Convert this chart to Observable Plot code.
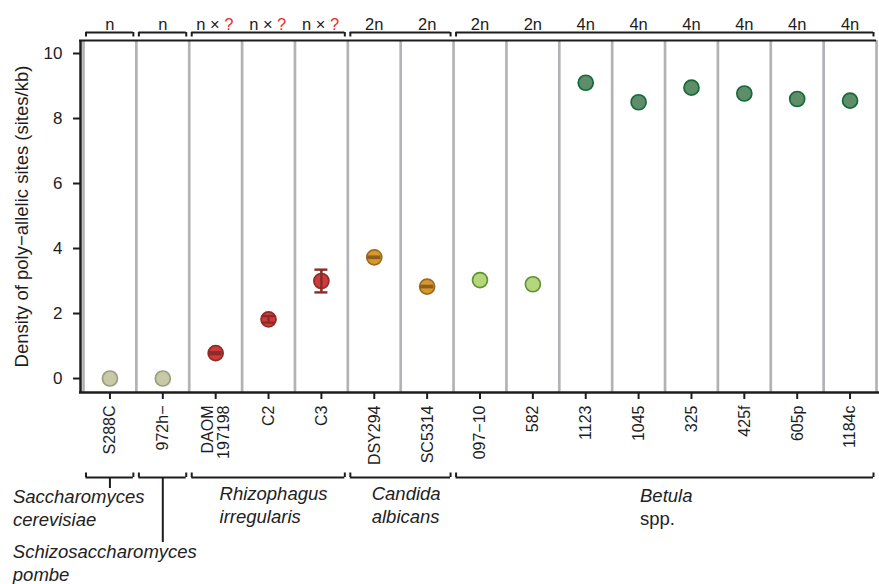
<!DOCTYPE html>
<html><head><meta charset="utf-8">
<script src="https://cdn.jsdelivr.net/npm/d3@7"></script>
<script src="https://cdn.jsdelivr.net/npm/@observablehq/plot@0.6"></script>
<style>body{margin:0;background:#fff}#chart svg{display:block}</style>
</head><body><div id="chart"></div>
<script>
// ---------- data ----------
const strains = ["S288C","972h−","DAOM\n197198","C2","C3","DSY294","SC5314","097−10","582","1123","1045","325","425f","605p","1184c"];
const ploidy = ["n","n","n × ?","n × ?","n × ?","2n","2n","2n","2n","4n","4n","4n","4n","4n","4n"];
const density = [0, 0, 0.78, 1.82, 3.0, 3.73, 2.83, 3.03, 2.9, 9.1, 8.5, 8.95, 8.77, 8.6, 8.55];
const densityErr = [0, 0, 0.03, 0.1, 0.35, 0.02, 0.02, 0, 0, 0, 0, 0, 0, 0, 0];
const strainClass = ["scer","spom","rhiz","rhiz","rhiz","cand","cand","bet2","bet2","bet4","bet4","bet4","bet4","bet4","bet4"];
const speciesNames = [["Saccharomyces","cerevisiae"],["Schizosaccharomyces","pombe"],["Rhizophagus","irregularis"],["Candida","albicans"],["Betula","spp."]];
const groupFrom = [0, 1, 2, 5, 7];
const groupTo = [0, 1, 4, 6, 14];
const yTicks = [0, 2, 4, 6, 8, 10];
const yTitle = "Density of poly−allelic sites (sites/kb)";

// ---------- styles ----------
const classFill = {scer:"#c8c9a7", spom:"#c8c9a7", rhiz:"#cf3b3a", cand:"#d6992d", bet2:"#b5d77c", bet4:"#5e8d6a"};
const classStroke = {scer:"#9d9d7c", spom:"#9d9d7c", rhiz:"#8e2c2a", cand:"#9c6b1f", bet2:"#5e9232", bet4:"#166a38"};
const classErr = {rhiz:"#8a2d28", cand:"#8d5e1c"};
const ink = "#1d1d1d";

// ---------- layout ----------
const W = 879, H = 584, mT = 40, mB = 192, mL = 83, mR = 3;
const xDom = [-0.5, 14.5], yDom = [-0.43, 10.4];
const pxX = (xDom[1]-xDom[0]) / (W - mL - mR);
const pxY = (yDom[1]-yDom[0]) / (H - mT - mB);
const xAt = p => xDom[0] + (p - mL) * pxX;
const yAt = p => yDom[1] - (p - mT) * pxY;
const speciesLayout = [
  {off: -97, y: 497, stem: 488},
  {off: -150, y: 552, stem: 542},
  {off: -49, y: 494, stem: null},
  {off: -29, y: 494, stem: null},
  {off: -25, y: 496, stem: null}
];
const lineGap = 23;

const rows = strains.map((s, i) => ({i, v: density[i], e: densityErr[i], cls: strainClass[i], p: ploidy[i], s}));
const groups = groupFrom.map((f, k) => ({k, from: f, to: groupTo[k], c: (f + groupTo[k]) / 2, ...speciesLayout[k]}));
const errRows = rows.filter(d => d.e > 0);

const speciesLines = [];
groups.forEach(g => speciesNames[g.k].forEach((t, j) => speciesLines.push({
  text: t, italic: !(g.k === 4 && j === 1), x: g.c + g.off * pxX, y: yAt(g.y + j * lineGap)
})));

const insL = 2.5 * pxX, insR = 3 * pxX;
const topY = yAt(32), topTickY = yAt(36.5);
const botY = yAt(477), botTickY = yAt(472.5);
const capHalf = 6.5 * pxX;

const plainP = rows.filter(d => !d.p.includes("?"));
const qP = rows.filter(d => d.p.includes("?"));

const chart = Plot.plot({
  width: W, height: H,
  marginTop: mT, marginBottom: mB, marginLeft: mL, marginRight: mR,
  x: {type: "linear", domain: xDom},
  y: {domain: yDom},
  style: {fontFamily: "'Liberation Sans', Arial, Helvetica, sans-serif", fontSize: "16px", color: ink, background: "#fff"},
  marks: [
    // column separators
    Plot.ruleX(d3.range(16).map(k => k - 0.5), {stroke: "#b3b3b7", strokeWidth: 2.7}),
    // frame lines
    Plot.ruleX([xAt(80)], {stroke: ink, strokeWidth: 2.5}),
    Plot.ruleY([yDom[1]], {x1: xAt(79), x2: xDom[1], stroke: ink, strokeWidth: 2}),
    Plot.ruleY([yDom[0]], {x1: xAt(79), x2: xAt(879), stroke: ink, strokeWidth: 2.5}),
    // axes (ticks) + labels
    Plot.axisY(yTicks, {tickSize: 7, dx: -3, strokeWidth: 2, stroke: ink, tickFormat: () => "", label: null}),
    Plot.text(yTicks, {x: xAt(62), y: d => d, text: d => String(d), textAnchor: "end", fontSize: 17, fill: ink}),
    Plot.axisX(d3.range(15), {tickSize: 7, strokeWidth: 2, stroke: ink, tickFormat: () => "", label: null}),
    Plot.text(rows, {x: "i", text: "s", frameAnchor: "bottom", dy: 13, rotate: -90, textAnchor: "end", lineAnchor: "middle", lineHeight: 1.05, fontSize: 16, fill: ink}),
    Plot.text([yTitle], {text: d => d, frameAnchor: "left", dx: 22 - mL, rotate: -90, textAnchor: "middle", fontSize: 18.5, fill: ink}),
    // ploidy labels
    Plot.text(plainP, {x: "i", text: "p", frameAnchor: "top", dy: -22, fontSize: 16.5, fill: ink}),
    Plot.text(qP, {x: "i", text: d => d.p.replace(" ?", ""), frameAnchor: "top", dy: -22, dx: 4, textAnchor: "end", fontSize: 16.5, fill: ink}),
    Plot.text(qP, {x: "i", text: () => "?", frameAnchor: "top", dy: -22, dx: 8.5, textAnchor: "start", fontSize: 16.5, fill: "#e5302c"}),
    // top brackets
    Plot.ruleY(groups, {y: () => topY, x1: d => d.from - 0.5 + insL, x2: d => d.to + 0.5 - insR, stroke: ink, strokeWidth: 2}),
    Plot.ruleX(groups.flatMap(d => [d.from - 0.5 + insL, d.to + 0.5 - insR]), {x: d => d, y1: topY, y2: topTickY, stroke: ink, strokeWidth: 2}),
    // bottom brackets
    Plot.ruleY(groups, {y: () => botY, x1: d => d.from - 0.5 + insL, x2: d => d.to + 0.5 - insR, stroke: ink, strokeWidth: 2}),
    Plot.ruleX(groups.flatMap(d => [d.from - 0.5 + insL, d.to + 0.5 - insR]), {x: d => d, y1: botY, y2: botTickY, stroke: ink, strokeWidth: 2}),
    Plot.ruleX(groups.filter(d => d.stem), {x: "c", y1: botY, y2: d => yAt(d.stem), stroke: ink, strokeWidth: 2}),
    // species labels
    Plot.text(speciesLines.filter(d => d.italic), {x: "x", y: "y", text: "text", textAnchor: "start", fontStyle: "italic", fontSize: 18.5, fill: "#222"}),
    Plot.text(speciesLines.filter(d => !d.italic), {x: "x", y: "y", text: "text", textAnchor: "start", fontSize: 18.5, fill: "#222"}),
    // points
    Plot.dot(rows, {x: "i", y: "v", r: 7.5, fill: d => classFill[d.cls], stroke: d => classStroke[d.cls], strokeWidth: 1.7}),
    // error bars
    Plot.ruleX(errRows, {x: "i", y1: d => d.v - d.e, y2: d => d.v + d.e, stroke: d => classErr[d.cls], strokeWidth: 2.6}),
    Plot.ruleY(errRows, {y: d => d.v - d.e, x1: d => d.i - capHalf, x2: d => d.i + capHalf, stroke: d => classErr[d.cls], strokeWidth: 2.4}),
    Plot.ruleY(errRows, {y: d => d.v + d.e, x1: d => d.i - capHalf, x2: d => d.i + capHalf, stroke: d => classErr[d.cls], strokeWidth: 2.4})
  ]
});
document.getElementById("chart").append(chart);
</script>
</body></html>
